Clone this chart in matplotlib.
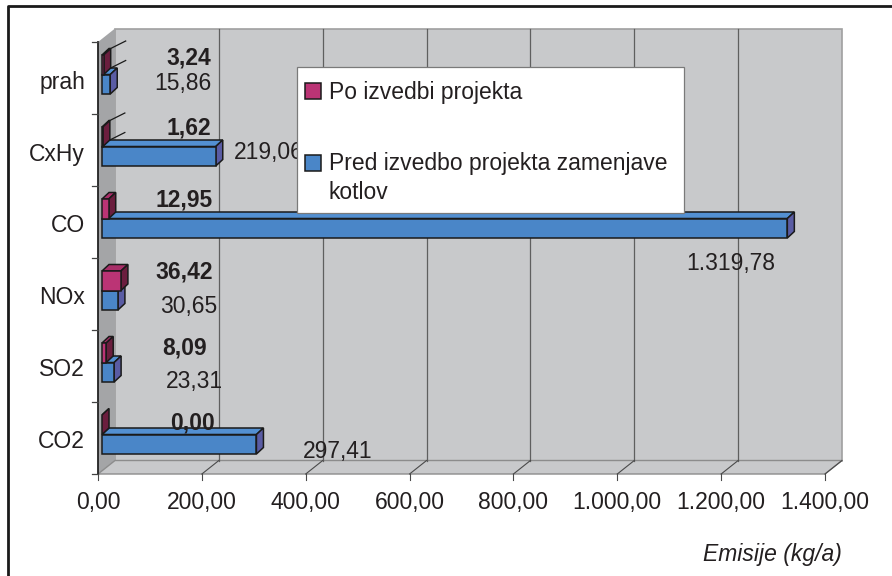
import matplotlib
matplotlib.use('Agg')
import matplotlib.pyplot as plt
from matplotlib.patches import Polygon, Rectangle
from matplotlib.lines import Line2D

plt.rcParams['font.family'] = ['Liberation Sans', 'DejaVu Sans']

# ---------------------------------------------------------------
# DATA (bottom to top, as drawn)
# ---------------------------------------------------------------
categories = ['CO2', 'SO2', 'NOx', 'CO', 'CxHy', 'prah']
po_values = [0.00, 8.09, 36.42, 12.95, 1.62, 3.24]          # Po izvedbi projekta
pred_values = [297.41, 23.31, 30.65, 1319.78, 219.06, 15.86]  # Pred izvedbo projekta
x_ticks = [0, 200, 400, 600, 800, 1000, 1200, 1400]

label_po = 'Po izvedbi projekta'
label_pred = 'Pred izvedbo projekta zamenjave\nkotlov'
x_title = 'Emisije (kg/a)'

# ---------------------------------------------------------------
# STYLE
# ---------------------------------------------------------------
W, H = 892, 576
TXT = '#231f20'
BLUE, BLUE_TOP, BLUE_SIDE = '#4a86c8', '#5390d2', '#5a5ca4'
MAG, MAG_TOP, MAG_SIDE = '#bb3475', '#a82e68', '#6b1e3e'
WALL, LWALL, FLOOR = '#c8c9cb', '#a4a5a7', '#c8c9cb'
FS = 16.5

# front plane in pixels
X0, X1 = 98, 825
YB, YT = 474, 42
UX = 1400 / (X1 - X0)   # data units per pixel (x)
UY = 6 / (YB - YT)      # category units per pixel (y)

# depth of walls and bars (pixels)
DXW, DYW = 17 * UX, 13.5 * UY
BX0, BY0 = 4 * UX, 3.5 * UY
DDX, DDY = 7 * UX, 6.5 * UY
BAR_H = 19.5 * UY

# data label anchors (right edge px, vertical offset in category units)
po_lab_px = [215, 207, 213, 213, 211, 211]
po_lab_dy = [0.21, 0.25, 0.31, 0.31, 0.31, 0.28]
pred_lab_px = [372, 223, 217, 775, 304, 211]
pred_lab_dy = [-0.19, -0.21, -0.18, -0.58, -0.04, -0.07]


def fmt(v):
    s = f'{v:,.2f}'
    return s.replace(',', 'X').replace('.', ',').replace('X', '.')


fig = plt.figure(figsize=(W / 100, H / 100), dpi=100)
fig.patch.set_facecolor('white')
ax = fig.add_axes([X0 / W, 1 - YB / H, (X1 - X0) / W, (YB - YT) / H])
ax.set_xlim(0, 1400)
ax.set_ylim(-0.5, 5.5)
ax.axis('off')


def poly(pts, fc, ec='none', lw=0.0, z=1):
    ax.add_patch(Polygon(pts, closed=True, facecolor=fc, edgecolor=ec,
                         linewidth=lw, clip_on=False, zorder=z, joinstyle='miter'))


# ---- walls ----
poly([(DXW, -0.5 + DYW), (1400 + DXW, -0.5 + DYW),
      (1400 + DXW, 5.5 + DYW), (DXW, 5.5 + DYW)], WALL, '#a0a0a0', 1.2)
poly([(0, -0.5), (0, 5.5), (DXW, 5.5 + DYW), (DXW, -0.5 + DYW)], LWALL)
poly([(0, -0.5), (1400, -0.5), (1400 + DXW, -0.5 + DYW), (DXW, -0.5 + DYW)],
     FLOOR, '#8c8c8c', 1.0)

for xv in x_ticks[1:-1]:
    ax.plot([xv + DXW, xv + DXW], [-0.5 + DYW, 5.5 + DYW], color='#5f5f5f',
            lw=0.9, clip_on=False, zorder=2)
for xv in x_ticks[1:]:
    ax.plot([xv, xv + DXW], [-0.5, -0.5 + DYW], color='#4a4a4a', lw=0.8,
            clip_on=False, zorder=2)
    ax.plot([xv, xv], [-0.5, -0.5 - 6 * UY], color='#4a4a4a', lw=0.8,
            clip_on=False, zorder=2)
ax.plot([0, 0], [-0.5 - 6 * UY, -0.5], color='#4a4a4a', lw=0.8, clip_on=False)

# left axis and ticks
ax.plot([0, 0], [-0.5, 5.5], color='#222222', lw=1.3, clip_on=False, zorder=3)
for k in range(7):
    yb = -0.5 + k
    ax.plot([-6 * UX, 0], [yb, yb], color='#444444', lw=0.9, clip_on=False, zorder=3)


# ---- bars ----
def bar3d(val, y_lo, front, top, side, streaks=False):
    x0, y0 = BX0, y_lo + BY0
    x1, y1 = BX0 + val, y0 + BAR_H
    ec, lw = '#1a1a1a', 1.1
    poly([(x0, y1), (x1, y1), (x1 + DDX, y1 + DDY), (x0 + DDX, y1 + DDY)], top, ec, lw, 4)
    poly([(x1, y0), (x1, y1), (x1 + DDX, y1 + DDY), (x1 + DDX, y0 + DDY)], side, ec, lw, 4)
    if val > 0:
        poly([(x0, y0), (x1, y0), (x1, y1), (x0, y1)], front, ec, lw, 4)
    if streaks:
        # thin depth edges drawn long for very thin bars
        for yy in (y0, y1):
            ax.plot([x1 + DDX, x1 + 22 * UX], [yy + DDY, yy + 14 * UY],
                    color='#1a1a1a', lw=0.9, clip_on=False, zorder=4)


for i, cat in enumerate(categories):
    bar3d(pred_values[i], i - BAR_H, BLUE, BLUE_TOP, BLUE_SIDE)
for i, cat in enumerate(categories):
    bar3d(po_values[i], i, MAG, MAG_TOP, MAG_SIDE, streaks=0 < po_values[i] < 5)

# ---- data labels ----
for i in range(len(categories)):
    ax.text((po_lab_px[i] - X0) * UX, i + po_lab_dy[i], fmt(po_values[i]),
            ha='right', va='center', fontsize=FS, fontweight='bold', color=TXT, zorder=6)
    ax.text((pred_lab_px[i] - X0) * UX, i + pred_lab_dy[i], fmt(pred_values[i]),
            ha='right', va='center', fontsize=FS, color=TXT, zorder=6)

# ---- axis labels ----
for i, cat in enumerate(categories):
    ax.text(-13 * UX, i - 4 * UY, cat, ha='right', va='center', fontsize=FS, color=TXT)
for xv in x_ticks:
    ax.text(xv, -0.5 - 29 * UY, fmt(xv), ha='center', va='center', fontsize=FS, color=TXT)

fig.text(842 / W, 1 - 555 / H, x_title, ha='right', va='center', fontsize=FS,
         style='italic', color=TXT)

# ---- legend ----
fig.add_artist(Rectangle((297 / W, 1 - 213 / H), 387 / W, 146 / H, transform=fig.transFigure,
                         facecolor='white', edgecolor='#7a7a7a', lw=0.9, zorder=5))
fig.add_artist(Rectangle((305 / W, 1 - 99 / H), 16 / W, 16 / H, transform=fig.transFigure,
                         facecolor=MAG, edgecolor='#1a1a1a', lw=1.1, zorder=6))
fig.add_artist(Rectangle((305 / W, 1 - 171 / H), 16 / W, 16 / H, transform=fig.transFigure,
                         facecolor=BLUE, edgecolor='#1a1a1a', lw=1.1, zorder=6))
fig.text(329 / W, 1 - 92 / H, label_po, ha='left', va='center', fontsize=FS,
         color=TXT, zorder=7)
fig.text(329 / W, 1 - 178 / H, label_pred, ha='left', va='center', fontsize=FS,
         color=TXT, zorder=7, linespacing=1.31)

# ---- outer frame ----
fig.add_artist(Line2D([8 / W, 8 / W, 1.0], [0.0, 1 - 6 / H, 1 - 6 / H],
                      transform=fig.transFigure, color='#1a1a1a', lw=2.0))

fig.savefig('out.png', dpi=100, facecolor='white')
